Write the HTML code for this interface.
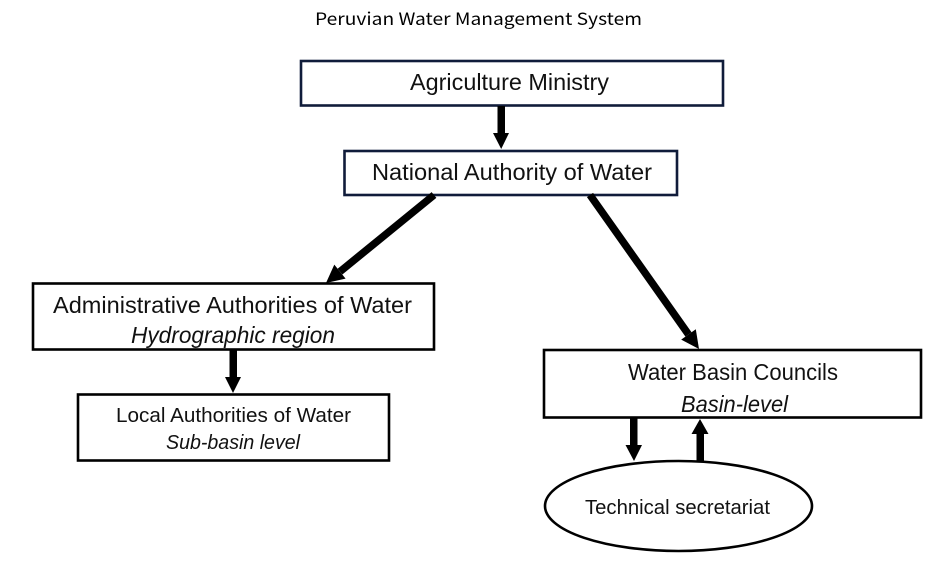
<!DOCTYPE html>
<html lang="en">
<head>
<meta charset="utf-8">
<title>Peruvian Water Management System</title>
<style>
html,body{margin:0;padding:0;background:#fff;width:940px;height:561px;overflow:hidden}
svg{display:block}
text{font-family:"Liberation Sans",sans-serif;fill:#111}
.b{filter:blur(.35px)}
</style>
</head>
<body>
<svg width="940" height="561" viewBox="0 0 940 561" xmlns="http://www.w3.org/2000/svg">
<rect width="940" height="561" fill="#fff"/>
<text x="315" y="25" font-size="17" textLength="327" lengthAdjust="spacingAndGlyphs" style="font-family:'Noto Sans CJK JP','Liberation Sans',sans-serif;fill:#000">Peruvian Water Management System</text>

<g class="b">
<g fill="#fff" stroke-width="2.6">
<rect x="301" y="61" width="422" height="44.500" stroke="#101c3a"/>
<rect x="344.500" y="151" width="332.500" height="44" stroke="#101c3a"/>
<rect x="33" y="283.500" width="401" height="66" stroke="#000"/>
<rect x="78" y="394.500" width="311" height="66" stroke="#000"/>
<rect x="544" y="350" width="377" height="67.500" stroke="#000"/>
<ellipse cx="678.500" cy="506" rx="133.500" ry="45" stroke="#000"/>
</g>

<g fill="#000" stroke="none">
<polygon points="497.500,106 505,106 505,133 509,133 501.200,149 493,133 497.500,133"/>
<polygon points="229.500,350 237,350 237,377 241,377 233,393 225,377 229.500,377"/>
<polygon points="630,418 637.500,418 637.500,445 642,445 634,461 625.500,445 630,445"/>
<polygon points="696.500,461 704,461 704,434 708.500,434 700,419 691.500,434 696.500,434"/>
<polygon points="345.600,278.600 326,283 334.300,264.600"/>
<polygon points="695.800,329.200 699,349 681.200,339.600"/>
</g>
<line x1="434" y1="195" x2="340" y2="271.600" stroke="#000" stroke-width="7.500"/>
<line x1="590" y1="195" x2="688.500" y2="334.400" stroke="#000" stroke-width="7.500"/>

<text x="410" y="90" font-size="23.500" textLength="199" lengthAdjust="spacingAndGlyphs">Agriculture Ministry</text>
<text x="372" y="180" font-size="23.500" textLength="280" lengthAdjust="spacingAndGlyphs">National Authority of Water</text>
<text x="53" y="313" font-size="23.500" textLength="359" lengthAdjust="spacingAndGlyphs">Administrative Authorities of Water</text>
<text x="131" y="343" font-size="23.500" font-style="italic" textLength="204" lengthAdjust="spacingAndGlyphs">Hydrographic region</text>
<text x="116" y="422" font-size="20.500" textLength="235" lengthAdjust="spacingAndGlyphs">Local Authorities of Water</text>
<text x="166" y="449" font-size="20.500" font-style="italic" textLength="134" lengthAdjust="spacingAndGlyphs">Sub-basin level</text>
<text x="628" y="380" font-size="23.500" textLength="210" lengthAdjust="spacingAndGlyphs">Water Basin Councils</text>
<text x="681" y="412" font-size="23.500" font-style="italic" textLength="107" lengthAdjust="spacingAndGlyphs">Basin-level</text>
<text x="585" y="514" font-size="20.500" textLength="185" lengthAdjust="spacingAndGlyphs">Technical secretariat</text>
</g>
</svg>
</body>
</html>
